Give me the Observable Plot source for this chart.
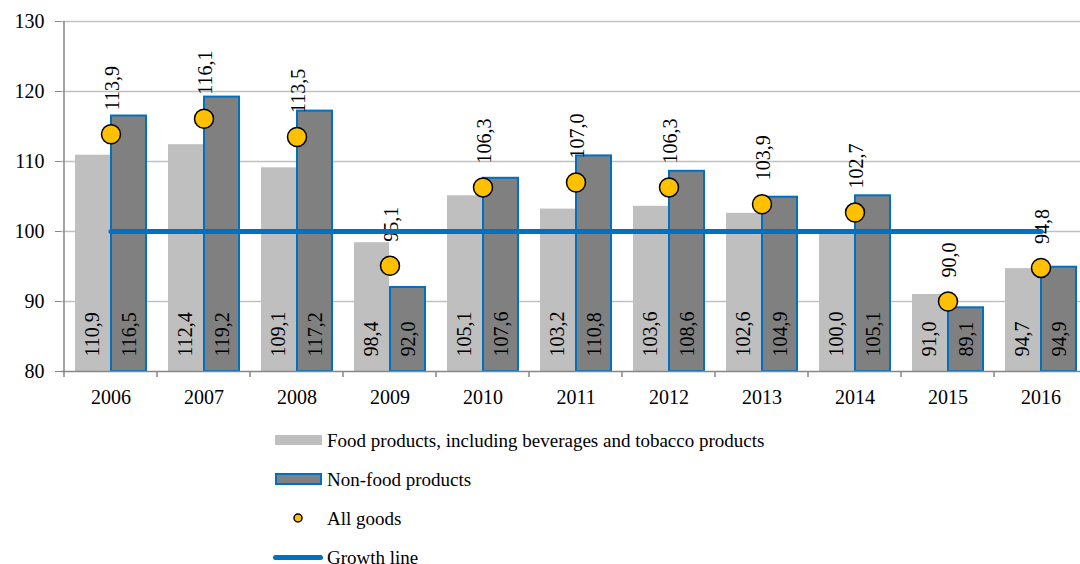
<!DOCTYPE html>
<html><head><meta charset="utf-8">
<script src="https://cdn.jsdelivr.net/npm/d3@7"></script>
<script src="https://cdn.jsdelivr.net/npm/@observablehq/plot@0.6"></script>
<style>
html,body{margin:0;padding:0;background:#fff;overflow:hidden;}
body{font-family:"Liberation Serif","Tinos","DejaVu Serif",serif;color:#000;}
#legend{margin-left:273px;margin-top:11px;font-size:19px;}
.row{display:flex;align-items:center;height:39px;white-space:nowrap;}
.sw{width:54px;height:39px;position:relative;flex:none;}
.sw span{position:absolute;display:block;box-sizing:border-box;}
</style></head><body><div id="chart"></div><div id="legend"></div>
<script>
const years = ["2006","2007","2008","2009","2010","2011","2012","2013","2014","2015","2016"];
const food = [110.9,112.4,109.1,98.4,105.1,103.2,103.6,102.6,100.0,91.0,94.7];
const nonFood = [116.5,119.2,117.2,92.0,107.6,110.8,108.6,104.9,105.1,89.1,94.9];
const allGoods = [113.9,116.1,113.5,95.1,106.3,107.0,106.3,103.9,102.7,90.0,94.8];
const growthLevel = 100;
const yTicks = [80,90,100,110,120,130];
const seriesNames = ["Food products, including beverages and tobacco products","Non-food products","All goods","Growth line"];

const rows = years.map((year,i)=>({year, food: food[i], nonFood: nonFood[i], all: allGoods[i]}));
const fmt = v => v.toFixed(1).replace(".", ",");
const FONT = '"Liberation Serif","Tinos","DejaVu Serif",serif';
const BLUE = "#0070c0";
const half = 47;

const chart = Plot.plot({
  width: 1080, height: 410,
  marginLeft: 61, marginTop: 21, marginBottom: 39, marginRight: 0,
  style: {fontFamily: FONT, fontSize: "20px", color: "#000", background: "#fff", overflow: "visible"},
  x: {type: "band", domain: years, range: [61, 1090], padding: 0, axis: null},
  y: {domain: [80, 130], range: [371, 21], axis: null},
  marks: [
    Plot.ruleY(yTicks.slice(1), {stroke: "#c0c0c0", strokeWidth: 1.3}),
    Plot.barY(rows, {x: "year", y1: 80, y2: "food", fill: "#bfbfbf", insetLeft: 11, insetRight: 47}),
    Plot.barY(rows, {x: "year", y1: 80, y2: "nonFood", fill: "#808080", stroke: BLUE, strokeWidth: 2, insetLeft: 47, insetRight: 11}),
    Plot.ruleY([80], {stroke: "#868686", strokeWidth: 1.5}),
    Plot.ruleX([years[0]], {x: d => d, dx: -half, stroke: "#868686", strokeWidth: 1.5}),
    Plot.ruleX(years, {x: d => d, dx: -half, y1: 80, y2: 80, insetTop: 6, stroke: "#868686", strokeWidth: 1.5}),
    Plot.axisY({ticks: yTicks, tickSize: 6, tickPadding: 11, stroke: "#868686", label: null, fontSize: 20, fontFamily: FONT, tickFormat: d => d}),
    Plot.axisX({tickSize: 0, tickPadding: 18, label: null, fontSize: 20, fontFamily: FONT}),
    Plot.text(rows, {x: "year", y: 80, text: d => fmt(d.food), rotate: -90, textAnchor: "start", dx: -18, dy: -15, fontSize: 20, fontFamily: FONT, fill: "#000"}),
    Plot.text(rows, {x: "year", y: 80, text: d => fmt(d.nonFood), rotate: -90, textAnchor: "start", dx: 19, dy: -15, fontSize: 20, fontFamily: FONT, fill: "#000"}),
    Plot.text(rows, {x: "year", y: "all", text: d => fmt(d.all), rotate: -90, textAnchor: "start", dx: 2, dy: -24, fontSize: 20, fontFamily: FONT, fill: "#000"}),
    Plot.line(years, {x: d => d, y: () => growthLevel, stroke: BLUE, strokeWidth: 5, strokeLinecap: "round"}),
    Plot.dot(rows, {x: "year", y: "all", r: 9.5, fill: "#ffc000", stroke: "#000", strokeWidth: 1.5})
  ]
});
document.getElementById("chart").appendChild(chart);

const sw = [
  '<span style="left:2px;top:14px;width:47px;height:10px;background:#bfbfbf"></span>',
  '<span style="left:2px;top:13px;width:47px;height:12px;background:#808080;border:2px solid '+BLUE+'"></span>',
  '<svg width="54" height="39" style="position:absolute;left:0;top:0"><circle cx="25" cy="19" r="4" fill="#ffc000" stroke="#000" stroke-width="1.5"/></svg>',
  '<span style="left:0px;top:17px;width:50px;height:5px;border-radius:3px;background:'+BLUE+'"></span>'
];
document.getElementById("legend").innerHTML = seriesNames.map((n,i)=>
  '<div class="row"><div class="sw">'+sw[i]+'</div><div>'+n+'</div></div>').join("");
</script>
</body></html>
